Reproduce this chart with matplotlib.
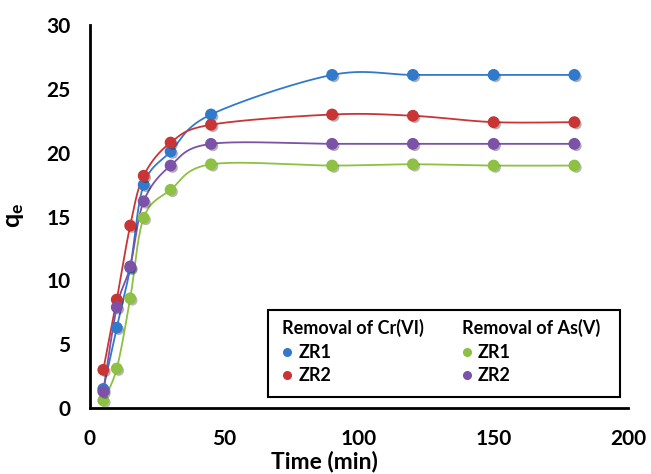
import matplotlib
matplotlib.use("Agg")
import matplotlib.pyplot as plt
import matplotlib.patheffects as pe
from matplotlib.patches import Rectangle
import numpy as np

# data
time_min = [5, 10, 15, 20, 30, 45, 90, 120, 150, 180]
cr_zr1 = [1.5, 6.3, 11.0, 17.5, 20.1, 23.0, 26.1, 26.1, 26.1, 26.1]
cr_zr2 = [3.0, 8.5, 14.3, 18.2, 20.8, 22.2, 23.0, 22.9, 22.4, 22.4]
as_zr1 = [0.6, 3.1, 8.6, 14.9, 17.1, 19.1, 19.0, 19.1, 19.0, 19.0]
as_zr2 = [1.3, 7.9, 11.1, 16.2, 19.0, 20.7, 20.7, 20.7, 20.7, 20.7]

series = [
    ("ZR1", cr_zr1, "#3179CB"),
    ("ZR2", cr_zr2, "#C93535"),
    ("ZR1", as_zr1, "#8DC043"),
    ("ZR2", as_zr2, "#7B52A8"),
]

plt.rcParams['font.family'] = ['Lato', 'DejaVu Sans']
plt.rcParams['font.weight'] = 'bold'
plt.rcParams['mathtext.fontset'] = 'custom'
plt.rcParams['mathtext.bf'] = 'Lato:bold'
plt.rcParams['mathtext.rm'] = 'Lato:bold'


def smooth(x, y, n=30):
    """Catmull-Rom curve through the points (like Excel's smoothed line)."""
    p = np.column_stack([x, y]).astype(float)
    p = np.vstack([p[0], p, p[-1]])
    out = []
    t = np.linspace(0, 1, n)[:, None]
    for i in range(1, len(p) - 2):
        p0, p1, p2, p3 = p[i - 1], p[i], p[i + 1], p[i + 2]
        c1 = p1 + (p2 - p0) / 6
        c2 = p2 - (p3 - p1) / 6
        seg = ((1 - t) ** 3) * p1 + 3 * ((1 - t) ** 2) * t * c1 \
            + 3 * (1 - t) * t ** 2 * c2 + t ** 3 * p2
        out.append(seg)
    out = np.vstack(out)
    return out[:, 0], out[:, 1]


fig = plt.figure(figsize=(6.51, 4.74), dpi=100)
ax = fig.add_axes([0.138, 0.139, 0.827, 0.808])

shadow = [pe.SimplePatchShadow(offset=(1.5, -1.5), alpha=0.35), pe.Normal()]
for name, vals, col in series:
    sx, sy = smooth(time_min, vals)
    ax.plot(sx, sy, color=col, lw=1.3, zorder=2)
    ax.plot(time_min, vals, 'o', color=col, ms=7.5, mec=col, zorder=3,
            path_effects=shadow)

ax.set_xlim(0, 200)
ax.set_ylim(0, 30)
ax.set_xticks(range(0, 201, 50))
ax.set_yticks(range(0, 31, 5))
ax.tick_params(length=0, labelsize=15)
ax.tick_params(axis='x', pad=15)
ax.tick_params(axis='y', pad=14)
for s in ['top', 'right']:
    ax.spines[s].set_visible(False)
for s in ['left', 'bottom']:
    ax.spines[s].set_linewidth(2)
ax.set_xlabel('Time (min)', fontsize=16.5, fontweight='bold')
ax.xaxis.set_label_coords(0.436, -0.112)
ax.set_ylabel(r'$\mathbf{q_e}$', fontsize=18)
ax.yaxis.set_label_coords(-0.118, 0.504)

# legend box drawn by hand (two titled columns)
ax.add_patch(Rectangle((0.331, 0.029), 0.654, 0.227, transform=ax.transAxes,
                       fill=False, ec='black', lw=1.5, zorder=4))
headers = ['Removal of Cr(VI)', 'Removal of As(V)']
col_x = [0.357, 0.691]
for j, h in enumerate(headers):
    ax.text(col_x[j], 0.209, h, transform=ax.transAxes, fontsize=13,
            fontweight='bold', va='center', ha='left')
    for k in range(2):
        name, vals, col = series[2 * j + k]
        yy = 0.146 - 0.06 * k
        ax.plot([col_x[j] + 0.01], [yy], 'o', color=col, ms=5.5,
                transform=ax.transAxes, clip_on=False)
        ax.text(col_x[j] + 0.03, yy, name, transform=ax.transAxes,
                fontsize=13, fontweight='bold', va='center', ha='left')

fig.savefig('out.png', dpi=100)
